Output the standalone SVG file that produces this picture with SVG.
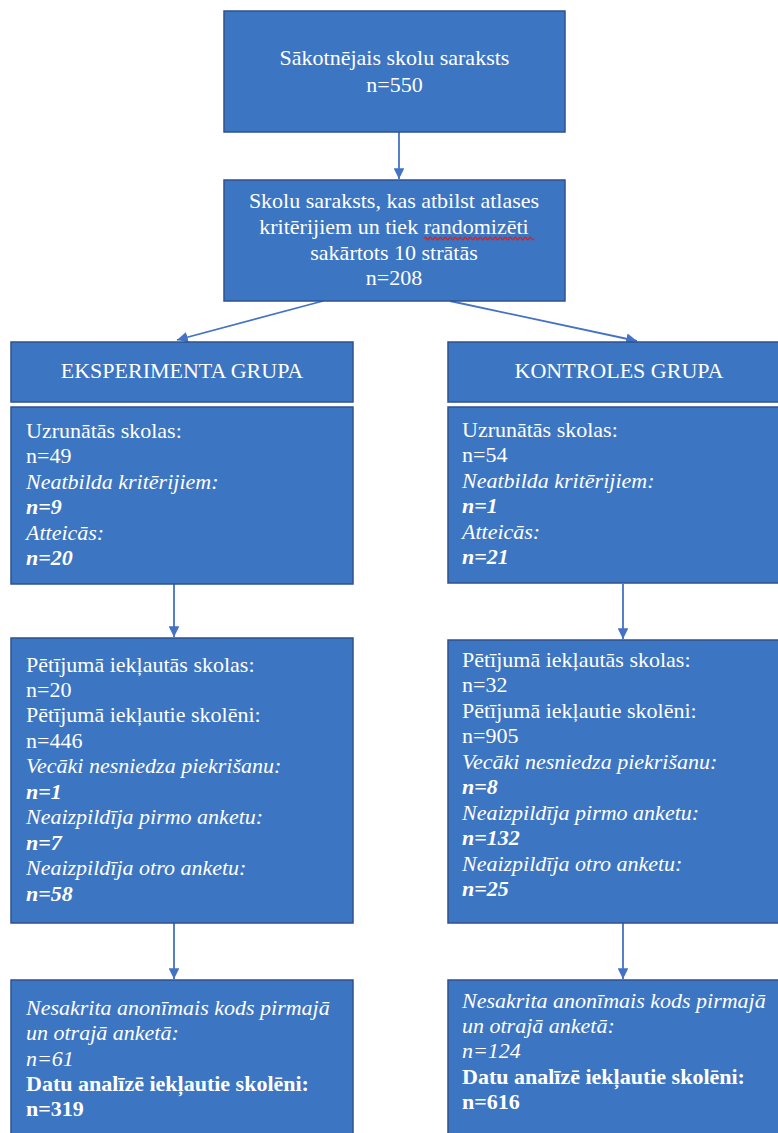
<svg xmlns="http://www.w3.org/2000/svg" width="778" height="1133" viewBox="0 0 778 1133">
<style>
.box{fill:#3C75C1;stroke:#2F528F;stroke-width:1.5}
text{font-family:"Liberation Serif","Times New Roman",Tinos,"Noto Serif","DejaVu Serif",FreeSerif,serif;font-size:22px;fill:#ffffff}
.c{text-anchor:middle}
.i{font-style:italic}
.b{font-weight:bold}
.conn{stroke:#4472C4;stroke-width:1.8;fill:none}
</style>
<defs>
<marker id="ah" viewBox="0 0 10 10" refX="10" refY="5" markerWidth="6" markerHeight="6" orient="auto" markerUnits="strokeWidth">
<path d="M0,0 L10,5 L0,10 z" fill="#4472C4"/>
</marker>
</defs>
<rect width="778" height="1133" fill="#ffffff"/>
<g id="connectors">
<line class="conn" x1="399" y1="132" x2="399" y2="179" marker-end="url(#ah)"/>
<line class="conn" x1="323" y1="301" x2="177" y2="340" marker-end="url(#ah)"/>
<line class="conn" x1="450" y1="301" x2="637" y2="341" marker-end="url(#ah)"/>
<line class="conn" x1="174" y1="584" x2="174" y2="637" marker-end="url(#ah)"/>
<line class="conn" x1="623" y1="584" x2="623" y2="639" marker-end="url(#ah)"/>
<line class="conn" x1="174" y1="923" x2="174" y2="979" marker-end="url(#ah)"/>
<line class="conn" x1="623" y1="923" x2="623" y2="979" marker-end="url(#ah)"/>
</g>
<g id="start">
<rect class="box" x="224" y="11" width="341" height="121"/>
<text class="c" x="394.5" y="65">Sākotnējais skolu saraksts</text>
<text class="c" x="394.5" y="92">n=550</text>
</g>
<g id="randomized">
<rect class="box" x="224" y="180" width="341" height="121"/>
<text class="c" x="394" y="208">Skolu saraksts, kas atbilst atlases</text>
<text class="c" x="394" y="234">kritērijiem un tiek randomizēti</text>
<text class="c" x="394" y="260">sakārtots 10 strātās</text>
<text class="c" x="394" y="285">n=208</text>
<path d="M424,238.5 q1.25,-2.5 2.5,0 t2.5,0 t2.5,0 t2.5,0 t2.5,0 t2.5,0 t2.5,0 t2.5,0 t2.5,0 t2.5,0 t2.5,0 t2.5,0 t2.5,0 t2.5,0 t2.5,0 t2.5,0 t2.5,0 t2.5,0 t2.5,0 t2.5,0 t2.5,0 t2.5,0 t2.5,0 t2.5,0 t2.5,0 t2.5,0 t2.5,0 t2.5,0 t2.5,0 t2.5,0 t2.5,0 t2.5,0 t2.5,0 t2.5,0 t2.5,0 t2.5,0 t2.5,0 t2.5,0 t2.5,0 t2.5,0 t2.5,0 t2.5,0 t2.5,0 t2.5,0" fill="none" stroke="#E0201C" stroke-width="1.5"/>
</g>
<g id="exp-header">
<rect class="box" x="11" y="342" width="342" height="60"/>
<text class="c" x="182" y="378">EKSPERIMENTA GRUPA</text>
</g>
<g id="ctrl-header">
<rect class="box" x="448" y="342" width="342" height="60"/>
<text class="c" x="619" y="378">KONTROLES GRUPA</text>
</g>
<g id="exp-contacted">
<rect class="box" x="11" y="407" width="342" height="177"/>
<text x="26" y="438">Uzrunātās skolas:</text>
<text x="26" y="463">n=49</text>
<text class="i" x="26" y="489">Neatbilda kritērijiem:</text>
<text class="i b" x="26" y="514">n=9</text>
<text class="i" x="26" y="540">Atteicās:</text>
<text class="i b" x="26" y="565">n=20</text>
</g>
<g id="ctrl-contacted">
<rect class="box" x="448" y="407" width="342" height="176"/>
<text x="462" y="437">Uzrunātās skolas:</text>
<text x="462" y="462">n=54</text>
<text class="i" x="462" y="488">Neatbilda kritērijiem:</text>
<text class="i b" x="462" y="513">n=1</text>
<text class="i" x="462" y="539">Atteicās:</text>
<text class="i b" x="462" y="564">n=21</text>
</g>
<g id="exp-included">
<rect class="box" x="11" y="638" width="342" height="285"/>
<text x="26" y="672">Pētījumā iekļautās skolas:</text>
<text x="26" y="697">n=20</text>
<text x="26" y="722">Pētījumā iekļautie skolēni:</text>
<text x="26" y="748">n=446</text>
<text class="i" x="26" y="773">Vecāki nesniedza piekrišanu:</text>
<text class="i b" x="26" y="799">n=1</text>
<text class="i" x="26" y="824">Neaizpildīja pirmo anketu:</text>
<text class="i b" x="26" y="850">n=7</text>
<text class="i" x="26" y="875">Neaizpildīja otro anketu:</text>
<text class="i b" x="26" y="901">n=58</text>
</g>
<g id="ctrl-included">
<rect class="box" x="448" y="640" width="342" height="283"/>
<text x="462" y="667">Pētījumā iekļautās skolas:</text>
<text x="462" y="692">n=32</text>
<text x="462" y="718">Pētījumā iekļautie skolēni:</text>
<text x="462" y="743">n=905</text>
<text class="i" x="462" y="769">Vecāki nesniedza piekrišanu:</text>
<text class="i b" x="462" y="794">n=8</text>
<text class="i" x="462" y="820">Neaizpildīja pirmo anketu:</text>
<text class="i b" x="462" y="845">n=132</text>
<text class="i" x="462" y="871">Neaizpildīja otro anketu:</text>
<text class="i b" x="462" y="896">n=25</text>
</g>
<g id="exp-analysed">
<rect class="box" x="11" y="980" width="342" height="165"/>
<text class="i" x="26" y="1015">Nesakrita anonīmais kods pirmajā</text>
<text class="i" x="26" y="1040">un otrajā anketā:</text>
<text class="i" x="26" y="1066">n=61</text>
<text class="b" x="26" y="1091">Datu analīzē iekļautie skolēni:</text>
<text class="b" x="26" y="1116">n=319</text>
</g>
<g id="ctrl-analysed">
<rect class="box" x="448" y="980" width="342" height="165"/>
<text class="i" x="462" y="1008">Nesakrita anonīmais kods pirmajā</text>
<text class="i" x="462" y="1033">un otrajā anketā:</text>
<text class="i" x="462" y="1058">n=124</text>
<text class="b" x="462" y="1084">Datu analīzē iekļautie skolēni:</text>
<text class="b" x="462" y="1109">n=616</text>
</g>
</svg>
